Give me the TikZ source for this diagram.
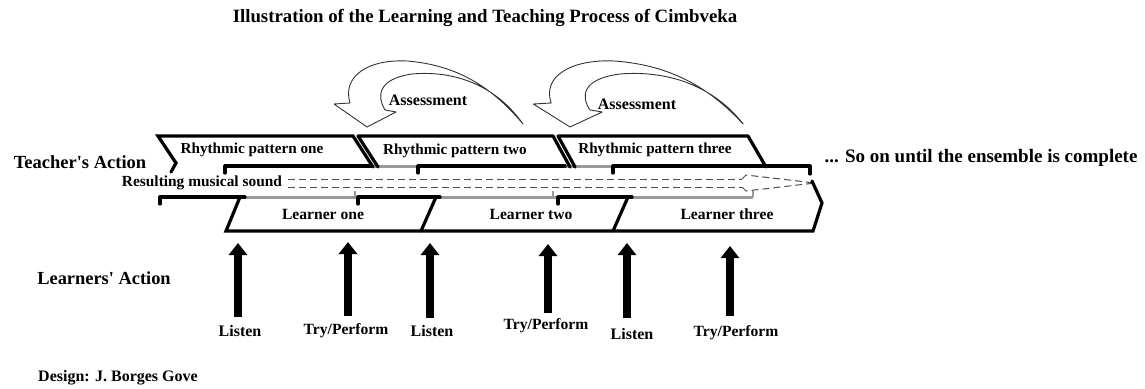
\documentclass[tikz,border=0pt]{standalone}
\usepackage{fontspec}
\setmainfont{Liberation Serif}[Ligatures=TeXOff]
\usetikzlibrary{arrows.meta}
\newcommand\AssessArrow[2]{%
  \begin{scope}[shift={#1}, xscale=#2]
    \draw[carrow] (156,-3) .. controls (125,-40) and (90,-62) .. (40,-66)
      .. controls (0,-68) and (-25,-50) .. (-17,-24) -- (-33,-23) -- (0,0)
      -- (29,-15) -- (18,-17) .. controls (10,-30) and (10,-48) .. (45,-53)
      .. controls (90,-57) and (130,-40) .. cycle;
  \end{scope}}
\begin{document}
\begin{tikzpicture}[x=1pt,y=-1pt,
  lab/.style={font=\bfseries\fontsize{#1}{#1}\selectfont, inner sep=0pt, anchor=center},
  thk/.style={line width=3.2pt, black, line join=round, line cap=round},
  gry/.style={line width=3pt, black!40},
  dsh/.style={line width=1pt, black!70, dash pattern=on 7pt off 4pt},
  carrow/.style={draw=black!80, line width=0.9pt, fill=white, line join=round},
  uparrow/.style={line width=7.5pt, -{Triangle[width=18pt,length=12pt]}}]
\useasboundingbox (0,0) rectangle (1145,388);

% title
\node[lab=18.8] (title) at (485,18) {Illustration of the Learning and Teaching Process of Cimbveka};

% assessment arrows
\AssessArrow{(367,127)}{1}
\AssessArrow{(570,127)}{1.11}
\node[lab=16] (as1) at (428,100) {Assessment};
\node[lab=16] (as2) at (637,104) {Assessment};

% upper strip bottom line
\draw[gry] (225,166) -- (810,166);
\draw[thk] (225,173) -- (225,166) -- (372,166);
\draw[thk] (418,173) -- (418,166) -- (565,166);
\draw[thk] (613,173) -- (613,166) -- (810,166) -- (810,174);

% rhythmic patterns
\draw[thk, line join=miter] (171,172) -- (176,163) -- (158,136) -- (353,136) -- (373,167);
\draw[thk] (378,167) -- (358,136) -- (553,136) -- (570,167);
\draw[thk] (575,167) -- (558,136) -- (748,136) -- (766,167);
\node[lab=15.2] (rp1) at (252,150) {Rhythmic pattern one};
\node[lab=15.2] (rp2) at (455,151) {Rhythmic pattern two};
\node[lab=15.2] (rp3) at (655,150) {Rhythmic pattern three};

% resulting musical sound (dashed block arrow)
\draw[dsh] (288,179) -- (742,179);
\draw[dsh] (288,187) -- (742,187);
\draw[dsh] (742,179) -- (746,175) -- (815,183) -- (746,191) -- (742,187);

% lower strip top line
\draw[gry] (160,197) -- (753,197);
\draw[thk] (160,204) -- (160,197) -- (245,197);
\draw[thk] (358,204) -- (358,197) -- (440,197);
\draw[thk] (558,204) -- (558,197) -- (632,197);
\draw[gry, line width=2pt] (355,197) -- (355,191);
\draw[gry, line width=2pt] (553,197) -- (553,191);
\draw[gry, line width=2pt] (753,197) -- (753,191);

% learners
\draw[thk, line join=miter] (240,197) -- (226,231) -- (813,231) -- (822,203) -- (812,181);
\draw[thk] (436,197) -- (421,231);
\draw[thk] (628,197) -- (613,231);
\node[lab=15.6] (l1) at (323,214) {Learner one};
\node[lab=15.6] (l2) at (531,214) {Learner two};
\node[lab=15.6] (l3) at (727,214) {Learner three};

% side labels
\node[lab=18.5] (ta) at (80,162) {Teacher's Action};
\node[lab=15.4] (rms) at (202,183) {Resulting musical sound};
\node[lab=19] (soon) at (981,158) {... So on until the ensemble is complete};
\node[lab=18.4] (la) at (104,278) {Learners' Action};
\node[lab=16] (des) at (118,378) {Design: J. Borges Gove};

% learners' action labels
\node[lab=16] (lis1) at (240,331) {Listen};
\node[lab=15.6] (try1) at (346,331) {Try/Perform};
\node[lab=16] (lis2) at (432,331) {Listen};
\node[lab=15.6] (try2) at (546,326) {Try/Perform};
\node[lab=16] (lis3) at (632,334) {Listen};
\node[lab=15.6] (try3) at (736,333) {Try/Perform};

% up arrows
\coordinate (t1) at (238,243);
\coordinate (t2) at (348,242);
\coordinate (t3) at (430,243);
\coordinate (t4) at (548,244);
\coordinate (t5) at (627,243);
\coordinate (t6) at (730,246);
\draw[uparrow] (t1 |- 0,317) -- (t1);
\draw[uparrow] (t2 |- 0,316) -- (t2);
\draw[uparrow] (t3 |- 0,318) -- (t3);
\draw[uparrow] (t4 |- 0,313) -- (t4);
\draw[uparrow] (t5 |- 0,318) -- (t5);
\draw[uparrow] (t6 |- 0,316) -- (t6);
\end{tikzpicture}
\end{document}
